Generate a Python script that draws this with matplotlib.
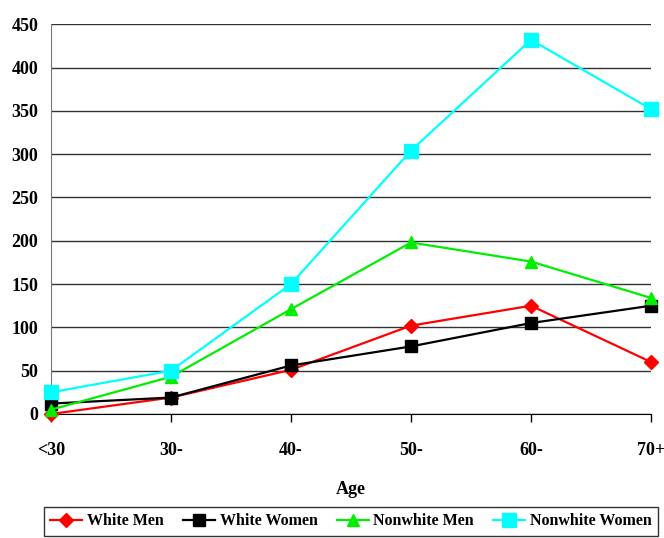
import matplotlib
matplotlib.use("Agg")
import matplotlib.pyplot as plt

plt.rcParams['font.family'] = ['Liberation Serif', 'DejaVu Serif']
plt.rcParams['font.weight'] = 'bold'

ages = ['<30', '30-', '40-', '50-', '60-', '70+']
white_men = [0, 19, 51, 102, 125, 60]
white_women = [12, 19, 56, 78, 105, 125]
nonwhite_men = [5, 43, 121, 198, 176, 134]
nonwhite_women = [25, 50, 150, 304, 432, 352]
yticks = list(range(0, 451, 50))

fig = plt.figure(figsize=(6.64, 5.38), dpi=100)
ax = fig.add_axes([0.0768, 0.2305, 0.9036, 0.7245])

x = range(len(ages))
ax.plot(x, white_men, color='#ff0000', marker='D', markersize=7.5, lw=1.6, label='White Men', clip_on=False, zorder=3)
ax.plot(x, white_women, color='#000000', marker='s', markersize=8.5, lw=1.6, label='White Women', clip_on=False, zorder=3)
ax.plot(x, nonwhite_men, color='#00ee00', marker='^', markersize=8.5, lw=1.6, label='Nonwhite Men', clip_on=False, zorder=3)
ax.plot(x, nonwhite_women, color='#00ffff', marker='s', markersize=9.5, lw=1.6, label='Nonwhite Women', clip_on=False, zorder=3)

ax.set_xlim(0, len(ages) - 1)
ax.set_ylim(0, 450)
ax.set_xticks(list(x))
ax.set_xticklabels(ages, fontsize=13, fontweight='bold')
ax.set_yticks(yticks)
ax.set_yticklabels([str(v) for v in yticks], fontsize=13, fontweight='bold')
ax.tick_params(axis='y', length=0, pad=9)
ax.tick_params(axis='x', direction='out', length=6, width=1, pad=14)
ax.yaxis.grid(True, color='#333333', lw=1)
ax.set_axisbelow(True)
for s in ['top', 'right']:
    ax.spines[s].set_visible(False)
ax.spines['left'].set_color('#777777')
ax.spines['bottom'].set_color('#000000')
ax.set_xlabel('Age', fontsize=13, fontweight='bold', labelpad=16)

leg = ax.legend(loc='upper left', bbox_to_anchor=(0.066, 0.058), bbox_transform=fig.transFigure,
                ncol=4, frameon=True, fancybox=False, fontsize=11.5, handlelength=2.0,
                handletextpad=0.3, columnspacing=1.2, borderpad=0.4, borderaxespad=0)
leg.get_frame().set_edgecolor('black')
leg.get_frame().set_linewidth(1)

fig.savefig('out.png', dpi=100)
